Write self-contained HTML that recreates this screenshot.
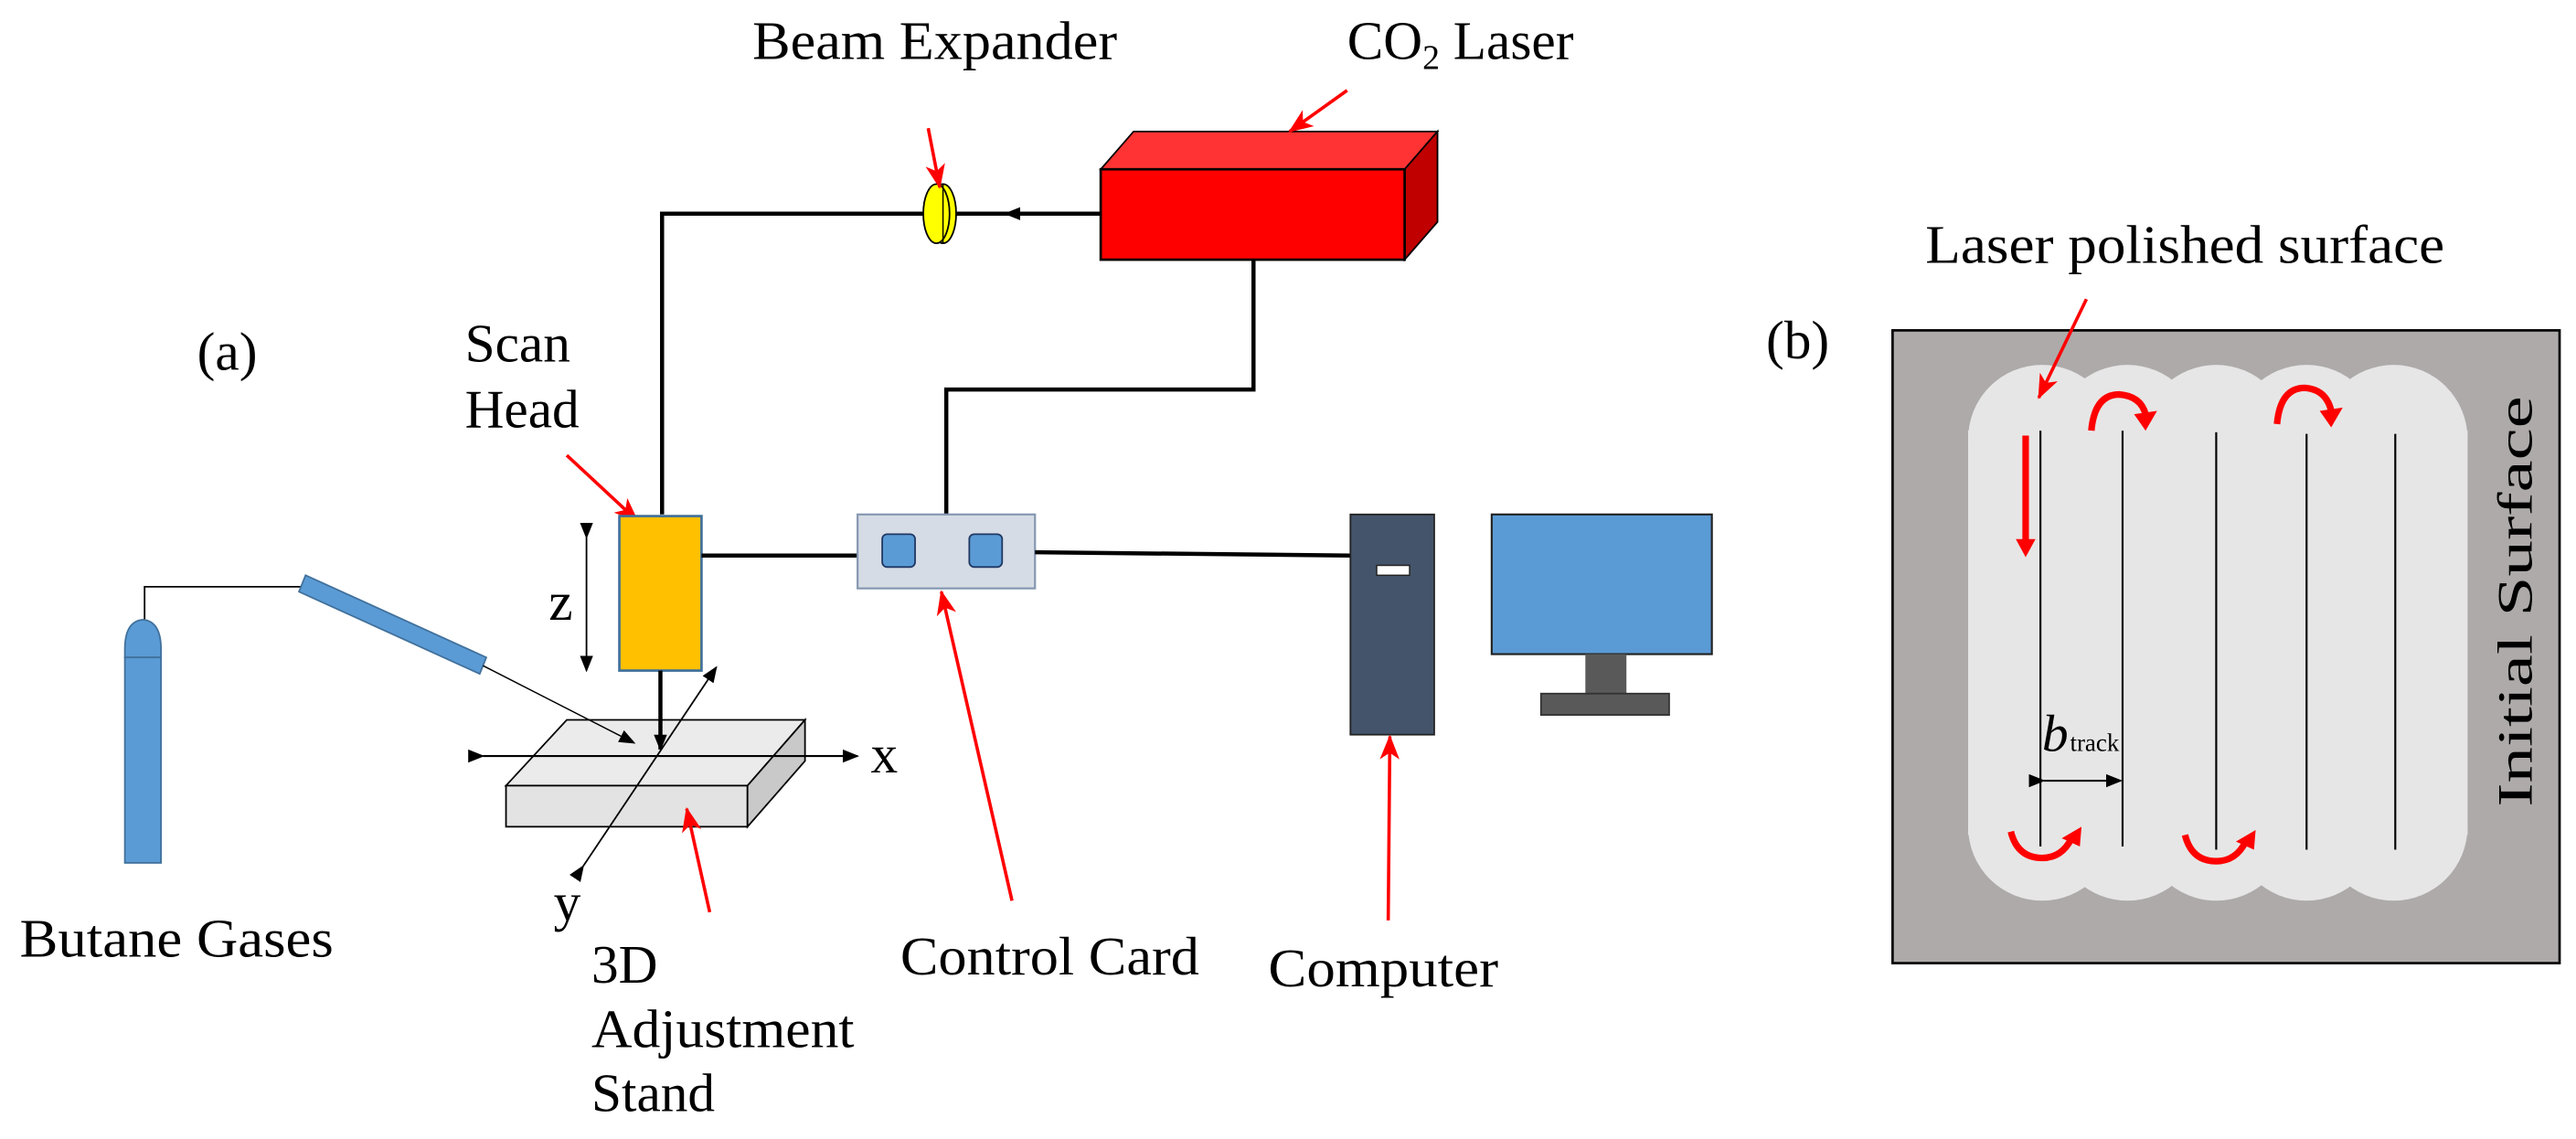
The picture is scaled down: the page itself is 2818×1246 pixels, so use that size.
<!DOCTYPE html>
<html><head><meta charset="utf-8"><style>
html,body{margin:0;padding:0;background:#fff;}
svg{display:block;}
</style></head><body>
<svg width="2818" height="1246" viewBox="0 0 1568 693" preserveAspectRatio="none" xmlns="http://www.w3.org/2000/svg">
<defs>
<marker id="ab" markerWidth="10" markerHeight="10" refX="9" refY="5" orient="auto" markerUnits="userSpaceOnUse"><path d="M0,1 L10,5 L0,9 z" fill="#000"/></marker>
<marker id="ar" markerWidth="16" markerHeight="14" refX="14" refY="7" orient="auto" markerUnits="userSpaceOnUse"><path d="M0,1 L15,7 L0,13 L4,7 z" fill="#f00"/></marker>
</defs>
<polygon points="670,103 690,80 875,80 855,103" fill="#ff3333" stroke="#000" stroke-width="1"/>
<polygon points="855,103 875,80 875,135 855,158" fill="#c00000" stroke="#000" stroke-width="1"/>
<rect x="670" y="103" width="185" height="55" fill="#ff0000" stroke="#000" stroke-width="1.5"/>
<polyline points="670,130 403,130 403,313" fill="none" stroke="#000" stroke-width="2.5"/>
<path d="M625,130 L612,130" stroke="#000" marker-end="url(#ab)"/>
<ellipse cx="574" cy="130" rx="8" ry="18" fill="#ffff00" stroke="#000" stroke-width="1"/>
<ellipse cx="570" cy="130" rx="8" ry="18" fill="#ffff00" stroke="#000" stroke-width="1"/>
<line x1="574" y1="112" x2="574" y2="148" stroke="#000" stroke-width="0.8"/>
<polyline points="763,158 763,237 576,237 576,313" fill="none" stroke="#000" stroke-width="2.5"/>
<g font-family="'Liberation Serif', 'DejaVu Serif', serif" fill="#000">
<text x="458" y="36" font-size="33" textLength="222" lengthAdjust="spacingAndGlyphs">Beam Expander</text>
<text x="820" y="36" font-size="33">CO<tspan font-size="21" dy="6">2</tspan><tspan dy="-6"> Laser</tspan></text>
<text x="120" y="225" font-size="33">(a)</text>
<text x="283" y="220" font-size="33">Scan</text>
<text x="283" y="260" font-size="33">Head</text>
<text x="334" y="377" font-size="33">z</text>
<text x="772" y="600" font-size="33" textLength="140" lengthAdjust="spacingAndGlyphs">Computer</text>
<text x="548" y="593" font-size="33" textLength="182" lengthAdjust="spacingAndGlyphs">Control Card</text>
<text x="530" y="470" font-size="33">x</text>
<text x="337" y="560" font-size="33">y</text>
<text x="360" y="598" font-size="33">3D</text>
<text x="360" y="637" font-size="33" textLength="160" lengthAdjust="spacingAndGlyphs">Adjustment</text>
<text x="360" y="676" font-size="33">Stand</text>
<text x="12" y="582" font-size="33" textLength="191" lengthAdjust="spacingAndGlyphs">Butane Gases</text>
<text x="1075" y="218" font-size="33">(b)</text>
<text x="1172" y="160" font-size="33" textLength="316" lengthAdjust="spacingAndGlyphs">Laser polished surface</text>
</g>
<line x1="565" y1="78" x2="572" y2="114" stroke="#f00" stroke-width="2" marker-end="url(#ar)"/>
<line x1="820" y1="55" x2="785" y2="80" stroke="#f00" stroke-width="2" marker-end="url(#ar)"/>
<line x1="345" y1="277" x2="388" y2="317" stroke="#f00" stroke-width="2" marker-end="url(#ar)"/>
<rect x="377" y="314" width="50" height="94" fill="#ffc000" stroke="#41719c" stroke-width="1.5"/>
<line x1="357" y1="327" x2="357" y2="408" stroke="#000" stroke-width="1" marker-start="url(#ab)" marker-end="url(#ab)"/>
<line x1="427" y1="338" x2="522" y2="338" stroke="#000" stroke-width="2.5"/>
<rect x="522" y="313" width="108" height="45" fill="#d6dce5" stroke="#8497b0" stroke-width="1.2"/>
<rect x="537" y="325" width="20" height="20" rx="3" fill="#5b9bd5" stroke="#1f3864" stroke-width="1"/>
<rect x="590" y="325" width="20" height="20" rx="3" fill="#5b9bd5" stroke="#1f3864" stroke-width="1"/>
<line x1="630" y1="336" x2="822" y2="338" stroke="#000" stroke-width="2.5"/>
<rect x="822" y="313" width="51" height="134" fill="#44546a" stroke="#222" stroke-width="1"/>
<rect x="838" y="344" width="20" height="6" fill="#fff" stroke="#222" stroke-width="0.8"/>
<rect x="908" y="313" width="134" height="85" fill="#5b9bd5" stroke="#222" stroke-width="1.2"/>
<rect x="965" y="398" width="25" height="24" fill="#595959"/>
<rect x="938" y="422" width="78" height="13" fill="#595959" stroke="#333" stroke-width="1"/>
<line x1="845" y1="560" x2="846" y2="448" stroke="#f00" stroke-width="2" marker-end="url(#ar)"/>
<line x1="616" y1="548" x2="573" y2="360" stroke="#f00" stroke-width="2" marker-end="url(#ar)"/>
<polygon points="345,438 490,438 455,478 308,478" fill="#ebebeb" stroke="#000" stroke-width="1"/>
<rect x="308" y="478" width="147" height="25" fill="#e3e3e3" stroke="#000" stroke-width="1"/>
<polygon points="455,478 490,438 490,463 455,503" fill="#c9c9c9" stroke="#000" stroke-width="1"/>
<line x1="294" y1="460" x2="522" y2="460" stroke="#000" stroke-width="1.2" marker-start="url(#ab)" marker-end="url(#ab)"/>
<line x1="355" y1="527" x2="436" y2="406" stroke="#000" stroke-width="1" marker-start="url(#ab)" marker-end="url(#ab)"/>
<line x1="402" y1="408" x2="402" y2="456" stroke="#000" stroke-width="2.5" marker-end="url(#ab)"/>
<line x1="432" y1="555" x2="418" y2="492" stroke="#f00" stroke-width="2" marker-end="url(#ar)"/>
<polyline points="88,385 88,357 185,357" fill="none" stroke="#000" stroke-width="1"/>
<path d="M76,400 L76,395 Q76,378 87,377 Q98,378 98,395 L98,400 z" fill="#5b9bd5" stroke="#41719c" stroke-width="1"/>
<rect x="76" y="400" width="22" height="125" fill="#5b9bd5" stroke="#41719c" stroke-width="1"/>
<polygon points="186,350 296,400 292,410 182,360" fill="#5b9bd5" stroke="#41719c" stroke-width="1"/>
<line x1="294" y1="405" x2="386" y2="452" stroke="#000" stroke-width="0.8" marker-end="url(#ab)"/>
<rect x="1152" y="201" width="406" height="385" fill="#aeaaaa" stroke="#000" stroke-width="1.5"/>
<g fill="#e7e6e6">
<rect x="1198" y="262" width="304" height="246"/>
<circle cx="1243" cy="267" r="45"/><circle cx="1295" cy="267" r="45"/><circle cx="1349" cy="267" r="45"/><circle cx="1404" cy="267" r="45"/><circle cx="1457" cy="267" r="45"/>
<circle cx="1243" cy="503" r="45"/><circle cx="1295" cy="503" r="45"/><circle cx="1349" cy="503" r="45"/><circle cx="1404" cy="503" r="45"/><circle cx="1457" cy="503" r="45"/>
</g>
<g stroke="#000" stroke-width="1.2">
<line x1="1242" y1="262" x2="1242" y2="515"/><line x1="1292" y1="262" x2="1292" y2="515"/><line x1="1349" y1="263" x2="1349" y2="517"/><line x1="1404" y1="264" x2="1404" y2="517"/><line x1="1458" y1="264" x2="1458" y2="517"/>
</g>
<line x1="1244" y1="475" x2="1291" y2="475" stroke="#000" stroke-width="1.2" marker-start="url(#ab)" marker-end="url(#ab)"/>
<g font-family="'Liberation Serif', 'DejaVu Serif', serif" fill="#000">
<text x="1243" y="457" font-size="32" font-style="italic">b</text>
<text x="1260" y="457" font-size="15">track</text>
<text transform="translate(1541,366) rotate(-90)" font-size="30" text-anchor="middle" textLength="250" lengthAdjust="spacingAndGlyphs">Initial Surface</text>
</g>
<line x1="1270" y1="182" x2="1241" y2="242" stroke="#f00" stroke-width="2" marker-end="url(#ar)"/>
<line x1="1233" y1="265" x2="1233" y2="330" stroke="#f00" stroke-width="4"/>
<path d="M1227,328 L1239,328 L1233,339 z" fill="#f00"/>
<g fill="none" stroke="#f00" stroke-width="4">
<path d="M1273,262 Q1275,240 1290,240 Q1303,241 1306,252"/>
<path d="M1386,258 Q1388,236 1403,236 Q1416,237 1419,250"/>
<path d="M1224,506 Q1228,522 1243,522 Q1255,522 1261,510"/>
<path d="M1330,508 Q1334,524 1349,524 Q1361,524 1367,512"/>
</g>
<path d="M1299,252 L1313,250 L1306,262 z" fill="#f00"/>
<path d="M1412,250 L1426,248 L1419,260 z" fill="#f00"/>
<path d="M1255,510 L1267,503 L1266,515 z" fill="#f00"/>
<path d="M1361,512 L1373,505 L1372,517 z" fill="#f00"/>
</svg>
</body></html>
